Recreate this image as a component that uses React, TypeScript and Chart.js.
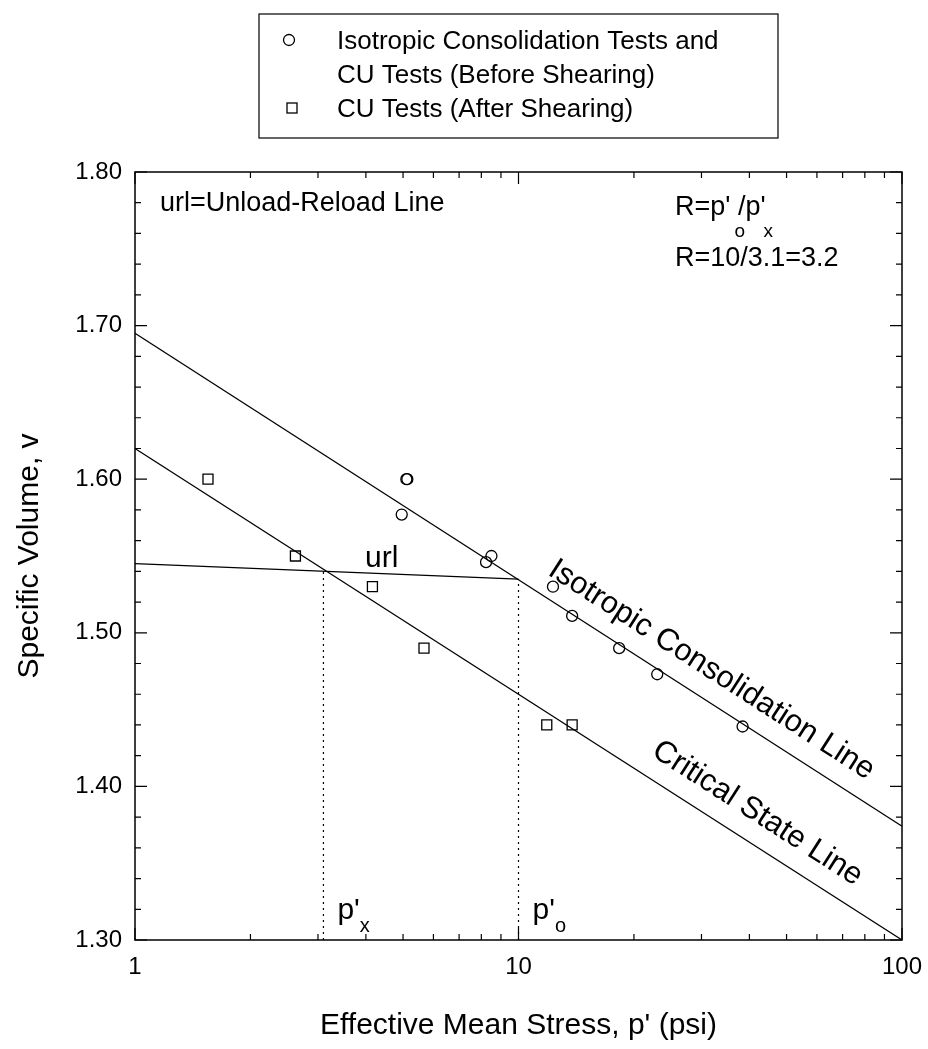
import React, { useEffect, useRef } from "react";
import { Chart, registerables } from "chart.js";

Chart.register(...registerables);

const W = 928;
const H = 1049;
const FONT = "'Liberation Sans', Arial, Helvetica, sans-serif";

// ---- data ----
const circleX = [5.1, 5.13, 4.96, 8.5, 8.23, 12.3, 13.8, 18.3, 23.0, 38.4];
const circleY = [1.6, 1.6, 1.577, 1.55, 1.546, 1.53, 1.511, 1.49, 1.473, 1.439];
const squareX = [1.55, 2.62, 4.16, 5.67, 11.85, 13.8];
const squareY = [1.6, 1.55, 1.53, 1.49, 1.44, 1.44];
const iclX = [1, 100];
const iclY = [1.695, 1.374];
const cslX = [1, 100];
const cslY = [1.62, 1.3];
const urlX = [1, 10];
const urlY = [1.545, 1.535];
const pxLineX = [3.1, 3.1];
const pxLineY = [1.3, 1.54];
const poLineX = [10, 10];
const poLineY = [1.3, 1.535];

const xMin = 1;
const xMax = 100;
const yMin = 1.3;
const yMax = 1.8;
const yStep = 0.1;
const yMinorStep = 0.02;
const xLabelValues = [1, 10, 100];
const xDecades = [1, 10];

const legendLabels = [
  "Isotropic Consolidation Tests and",
  "CU Tests (Before Shearing)",
  "CU Tests (After Shearing)",
];
const xTitle = "Effective Mean Stress, p' (psi)";
const yTitle = "Specific Volume, v";
const noteLeft = "url=Unload-Reload Line";
const noteR1 = "R=p' /p'";
const noteR2 = "R=10/3.1=3.2";

const pts = (xs: number[], ys: number[]) => xs.map((x, i) => ({ x, y: ys[i] }));

const lineDs = (xs: number[], ys: number[], dash: number[] = []) => ({
  data: pts(xs, ys),
  showLine: true,
  borderColor: "#000",
  borderWidth: 1.2,
  borderDash: dash,
  pointRadius: 0,
  pointHoverRadius: 0,
  fill: false,
});

const annotPlugin = {
  id: "annot",
  afterDraw(chart: any) {
    const { ctx, chartArea: a, scales } = chart;
    const xs = scales.x;
    const ys = scales.y;
    ctx.save();
    ctx.strokeStyle = "#000";
    ctx.fillStyle = "#000";

    // frame
    ctx.lineWidth = 1.5;
    ctx.strokeRect(a.left, a.top, a.right - a.left, a.bottom - a.top);

    // inner ticks
    ctx.lineWidth = 1.2;
    ctx.beginPath();
    const nY = Math.round((yMax - yMin) / yMinorStep);
    const perMajor = Math.round(yStep / yMinorStep);
    for (let k = 0; k <= nY; k++) {
      const py = ys.getPixelForValue(yMin + k * yMinorStep);
      const len = k % perMajor === 0 ? 12 : 6;
      ctx.moveTo(a.left, py);
      ctx.lineTo(a.left + len, py);
      ctx.moveTo(a.right, py);
      ctx.lineTo(a.right - len, py);
    }
    for (const dec of xDecades) {
      for (let m = 1; m <= 10; m++) {
        const px = xs.getPixelForValue(m * dec);
        const len = m === 1 || m === 10 ? 12 : 6;
        ctx.moveTo(px, a.bottom);
        ctx.lineTo(px, a.bottom - len);
        ctx.moveTo(px, a.top);
        ctx.lineTo(px, a.top + len);
      }
    }
    ctx.stroke();

    // legend box
    ctx.lineWidth = 1.2;
    ctx.strokeRect(259, 14, 519, 124);
    ctx.lineWidth = 1.3;
    ctx.beginPath();
    ctx.arc(289, 40, 5.5, 0, Math.PI * 2);
    ctx.stroke();
    ctx.strokeRect(287, 103, 10, 10);
    ctx.font = `26px ${FONT}`;
    ctx.textAlign = "left";
    ctx.textBaseline = "middle";
    ctx.fillText(legendLabels[0], 337, 42);
    ctx.fillText(legendLabels[1], 337, 76);
    ctx.fillText(legendLabels[2], 337, 110);

    // axis titles
    ctx.font = `30px ${FONT}`;
    ctx.textAlign = "center";
    ctx.textBaseline = "middle";
    ctx.fillText(xTitle, (a.left + a.right) / 2, 1026);
    ctx.save();
    ctx.translate(30, (a.top + a.bottom) / 2);
    ctx.rotate(-Math.PI / 2);
    ctx.fillText(yTitle, 0, 0);
    ctx.restore();

    // corner notes
    ctx.textAlign = "left";
    ctx.textBaseline = "alphabetic";
    ctx.font = `27px ${FONT}`;
    ctx.fillText(noteLeft, a.left + 25, a.top + 39);
    const rx = a.right - 227;
    ctx.fillText(noteR1, rx, a.top + 43);
    const wA = ctx.measureText("R=p'").width;
    const wB = ctx.measureText(noteR1).width;
    ctx.fillText(noteR2, rx, a.top + 94);
    ctx.font = `19px ${FONT}`;
    ctx.fillText("o", rx + wA + 4, a.top + 65);
    ctx.fillText("x", rx + wB - 2, a.top + 65);

    // rotated line labels
    const lineLabel = (
      lx: number[],
      ly: number[],
      anchorX: number,
      text: string,
      size: number,
      d: number
    ) => {
      const x0 = xs.getPixelForValue(lx[0]);
      const y0 = ys.getPixelForValue(ly[0]);
      const x1 = xs.getPixelForValue(lx[1]);
      const y1 = ys.getPixelForValue(ly[1]);
      const ang = Math.atan2(y1 - y0, x1 - x0);
      const fx = xs.getPixelForValue(anchorX);
      const fy = y0 + ((y1 - y0) * (fx - x0)) / (x1 - x0);
      ctx.save();
      ctx.translate(fx, fy);
      ctx.rotate(ang);
      ctx.font = `${size}px ${FONT}`;
      ctx.textAlign = "left";
      ctx.textBaseline = "alphabetic";
      ctx.fillText(text, 0, -d);
      ctx.restore();
    };
    lineLabel(iclX, iclY, 11.1, "Isotropic Consolidation Line", 31, 20);
    lineLabel(cslX, cslY, 20.7, "Critical State Line", 31, 20);

    // url label
    ctx.font = `30px ${FONT}`;
    ctx.textAlign = "center";
    const ux = xs.getPixelForValue(4.4);
    const uy0 = ys.getPixelForValue(urlY[0]);
    const uy1 = ys.getPixelForValue(urlY[1]);
    const ux0 = xs.getPixelForValue(urlX[0]);
    const ux1 = xs.getPixelForValue(urlX[1]);
    const uy = uy0 + ((uy1 - uy0) * (ux - ux0)) / (ux1 - ux0);
    ctx.fillText("url", ux, uy - 7);

    // p'x and p'o labels
    const pLabel = (xv: number, sub: string) => {
      const px = xs.getPixelForValue(xv) + 14;
      ctx.textAlign = "left";
      ctx.font = `30px ${FONT}`;
      ctx.fillText("p'", px, a.bottom - 21);
      const w = ctx.measureText("p'").width;
      ctx.font = `20px ${FONT}`;
      ctx.fillText(sub, px + w, a.bottom - 8);
    };
    pLabel(pxLineX[0], "x");
    pLabel(poLineX[0], "o");

    ctx.restore();
  },
};

export default function App() {
  const ref = useRef<HTMLCanvasElement | null>(null);

  useEffect(() => {
    if (!ref.current) return;
    const chart = new Chart(ref.current, {
      type: "scatter",
      data: {
        datasets: [
          lineDs(iclX, iclY),
          lineDs(cslX, cslY),
          lineDs(urlX, urlY),
          lineDs(pxLineX, pxLineY, [2, 4]),
          lineDs(poLineX, poLineY, [2, 4]),
          {
            data: pts(circleX, circleY),
            pointStyle: "circle",
            pointRadius: 5.5,
            pointHoverRadius: 5.5,
            borderColor: "#000",
            borderWidth: 1.3,
            backgroundColor: "rgba(0,0,0,0)",
            showLine: false,
          },
          {
            data: pts(squareX, squareY),
            pointStyle: "rect",
            pointRadius: 7.07,
            pointHoverRadius: 7.07,
            borderColor: "#000",
            borderWidth: 1.3,
            backgroundColor: "rgba(0,0,0,0)",
            showLine: false,
          },
        ],
      } as any,
      options: {
        responsive: false,
        animation: false,
        events: [],
        layout: { padding: { top: 172, right: 26, left: 0, bottom: 0 } },
        plugins: {
          legend: { display: false },
          tooltip: { enabled: false },
          title: { display: false },
        },
        scales: {
          x: {
            type: "logarithmic",
            min: xMin,
            max: xMax,
            position: "bottom",
            grid: { display: false, drawTicks: false },
            border: { display: false },
            ticks: {
              autoSkip: false,
              maxRotation: 0,
              minRotation: 0,
              padding: 13,
              color: "#000",
              font: { family: FONT, size: 24 },
              callback: (v: any) => {
                const n = Number(v);
                return xLabelValues.some((t) => Math.abs(t - n) < 1e-9) ? String(n) : "";
              },
            },
            afterFit: (s: any) => {
              s.height = 109;
              s.paddingLeft = 0;
              s.paddingRight = 0;
            },
          },
          y: {
            type: "linear",
            min: yMin,
            max: yMax,
            position: "left",
            grid: { display: false, drawTicks: false },
            border: { display: false },
            ticks: {
              stepSize: yStep,
              padding: 13,
              color: "#000",
              font: { family: FONT, size: 24 },
              callback: (v: any) => Number(v).toFixed(2),
            },
            afterFit: (s: any) => {
              s.width = 135;
              s.paddingTop = 0;
              s.paddingBottom = 0;
            },
          },
        },
      } as any,
      plugins: [annotPlugin],
    });
    return () => chart.destroy();
  }, []);

  return (
    <div style={{ position: "fixed", left: 0, top: 0, width: W, height: H, background: "#fff" }}>
      <canvas ref={ref} width={W} height={H} style={{ display: "block", width: W, height: H }} />
    </div>
  );
}
